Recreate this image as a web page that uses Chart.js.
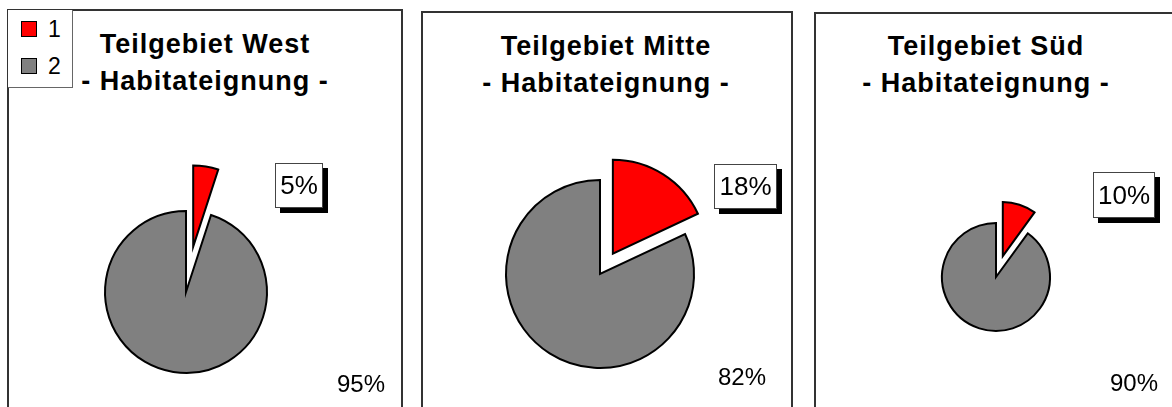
<!DOCTYPE html>
<html lang="de">
<head>
<meta charset="utf-8">
<title>Habitateignung</title>
<script src="https://cdn.jsdelivr.net/npm/chart.js@4/dist/chart.umd.min.js"></script>
<style>
  html, body { margin: 0; padding: 0; background: #fff; overflow: hidden; }
  body { width: 1172px; height: 407px; position: relative; font-family: "Liberation Sans", Arial, sans-serif; }
  .panel { position: absolute; border: 2px solid #333; border-bottom: none; box-sizing: border-box; height: 420px; }
  .title { position: absolute; width: 360px; text-align: center; font-weight: bold; font-size: 27px; line-height: 37px; color: #000; letter-spacing: 1px; white-space: nowrap; }
  .pie { position: absolute; }
  .lbl { position: absolute; font-size: 24px; color: #000; white-space: nowrap; }
  .box { background: #fff; border: 1px solid #444; box-shadow: 5px 5px 0 #000; text-align: center; box-sizing: border-box; font-size: 26px; }
  .legend { position: absolute; left: 8px; top: 10px; width: 65px; height: 78px; border: 1px solid #666; border-left: none; border-top: none; box-sizing: border-box; background: #fff; }
  .legend .sw { position: absolute; left: 13px; width: 16px; height: 16px; border: 1.5px solid #000; box-sizing: border-box; }
  .legend .tx { position: absolute; left: 40px; font-size: 23px; line-height: 24px; }
</style>
</head>
<body>

<div class="panel" style="left:7px;top:9px;width:396px"></div>
<div class="panel" style="left:421px;top:11px;width:372px"></div>
<div class="panel" style="left:814px;top:12px;width:420px"></div>

<div id="titles"></div>
<div id="labels"></div>

<div class="legend" id="legend"></div>

<script>
// daten
const regions    = ['Teilgebiet West', 'Teilgebiet Mitte', 'Teilgebiet Süd'];
const subtitle   = '- Habitateignung -';
const categories = ['1', '2'];
const suitable   = [5, 18, 10];   // rot, herausgezogen
const unsuitable = [95, 82, 90];  // grau
const colors     = ['#ff0000', '#808080'];

// legende (nur im ersten feld)
const lg = document.getElementById('legend');
categories.forEach((c, i) => {
  const sw = document.createElement('div');
  sw.className = 'sw';
  sw.style.top = (11 + i * 37) + 'px';
  sw.style.background = colors[i];
  lg.appendChild(sw);
  const tx = document.createElement('div');
  tx.className = 'tx';
  tx.style.top = (7 + i * 37) + 'px';
  tx.textContent = c;
  lg.appendChild(tx);
});

// layout je teilgebiet
const layout = [
  { cx: 186, cy: 292, r: 81, explode: 46, titleX: 205, titleY: 26,
    boxL: 275, boxT: 163, boxW: 48, boxH: 45, restX: 361, restY: 372 },
  { cx: 600, cy: 274, r: 94, explode: 24, titleX: 606, titleY: 28,
    boxL: 714, boxT: 164, boxW: 63, boxH: 45, restX: 742, restY: 365 },
  { cx: 996, cy: 277, r: 54, explode: 22, titleX: 986, titleY: 28,
    boxL: 1093, boxT: 172, boxW: 62, boxH: 46, restX: 1134, restY: 371 }
];

// rotes segment herausziehen (entlang der winkelhalbierenden)
const explodePlugin = {
  id: 'explode',
  afterDatasetUpdate(chart, args) {
    const d = chart.options.plugins.explode.distance || 0;
    args.meta.data.forEach((arc, i) => {
      if (i !== 0) return;
      const mid = (arc.startAngle + arc.endAngle) / 2;
      arc.x += Math.cos(mid) * d;
      arc.y += Math.sin(mid) * d;
    });
  }
};

const SIZE = 300;
const titlesEl = document.getElementById('titles');
const labelsEl = document.getElementById('labels');

regions.forEach((name, k) => {
  const L = layout[k];

  const t = document.createElement('div');
  t.className = 'title';
  t.style.left = (L.titleX - 180) + 'px';
  t.style.top = L.titleY + 'px';
  t.innerHTML = name + '<br>' + subtitle;
  titlesEl.appendChild(t);

  const cv = document.createElement('canvas');
  cv.className = 'pie';
  cv.width = SIZE; cv.height = SIZE;
  cv.style.left = (L.cx - SIZE / 2) + 'px';
  cv.style.top = (L.cy - SIZE / 2) + 'px';
  document.body.insertBefore(cv, titlesEl);

  new Chart(cv, {
    type: 'pie',
    data: {
      labels: categories,
      datasets: [{
        data: [suitable[k], unsuitable[k]],
        backgroundColor: colors,
        borderColor: '#000',
        borderWidth: 2,
        borderJoinStyle: 'miter'
      }]
    },
    options: {
      responsive: false,
      animation: false,
      events: [],
      radius: L.r,
      layout: { padding: 0 },
      plugins: {
        legend: { display: false },
        tooltip: { enabled: false },
        explode: { distance: L.explode }
      }
    },
    plugins: [explodePlugin]
  });

  const b = document.createElement('div');
  b.className = 'lbl box';
  b.style.left = L.boxL + 'px';
  b.style.top = L.boxT + 'px';
  b.style.width = L.boxW + 'px';
  b.style.height = L.boxH + 'px';
  b.style.lineHeight = (L.boxH - 2) + 'px';
  b.textContent = suitable[k] + '%';
  labelsEl.appendChild(b);

  const r = document.createElement('div');
  r.className = 'lbl';
  r.style.left = (L.restX - 40) + 'px';
  r.style.width = '80px';
  r.style.textAlign = 'center';
  r.style.top = L.restY + 'px';
  r.style.lineHeight = '24px';
  r.textContent = unsuitable[k] + '%';
  labelsEl.appendChild(r);
});
</script>
</body>
</html>
